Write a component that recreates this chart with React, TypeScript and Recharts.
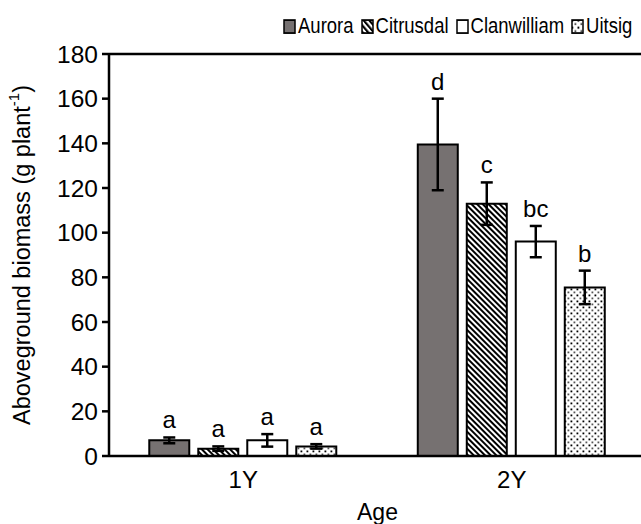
import React from 'react';
import { BarChart, Bar, XAxis, YAxis, ErrorBar, LabelList, Legend, ReferenceLine, Label } from 'recharts';

const ages = ['1Y', '2Y'];

const aurora = [7, 139.5];
const auroraSe = [1.3, 20.5];
const auroraLetters = ['a', 'd'];

const citrusdal = [3.3, 113];
const citrusdalSe = [1, 9.5];
const citrusdalLetters = ['a', 'c'];

const clanwilliam = [7, 96];
const clanwilliamSe = [2.8, 7];
const clanwilliamLetters = ['a', 'bc'];

const uitsig = [4.3, 75.5];
const uitsigSe = [1, 7.5];
const uitsigLetters = ['a', 'b'];

const yTicks = [0, 20, 40, 60, 80, 100, 120, 140, 160, 180];

const FONT = '"Liberation Sans", Arial, sans-serif';

const series = [
  { key: 'Aurora', values: aurora, se: auroraSe, letters: auroraLetters, fill: '#767171' },
  { key: 'Citrusdal', values: citrusdal, se: citrusdalSe, letters: citrusdalLetters, fill: 'url(#stripes)' },
  { key: 'Clanwilliam', values: clanwilliam, se: clanwilliamSe, letters: clanwilliamLetters, fill: '#ffffff' },
  { key: 'Uitsig', values: uitsig, se: uitsigSe, letters: uitsigLetters, fill: 'url(#dots)' },
];

const data = ages.map((age, i) => {
  const row: Record<string, string | number> = { age };
  series.forEach(s => {
    row[s.key] = s.values[i];
    row[s.key + 'Se'] = s.se[i];
  });
  return row;
});

// significance letter sits a little above the top of the error bar
const letterLabel = (se: number[], letters: string[]) => (props: any) => {
  const { x, y, width, height, index, value } = props;
  const pxPerUnit = Number(height) / Number(value);
  const top = Number(y) - se[index] * pxPerUnit;
  return (
    <text x={Number(x) + Number(width) / 2} y={top - 9} textAnchor="middle" fontSize={24} fill="#000" fontFamily={FONT}>
      {letters[index]}
    </text>
  );
};

const renderLegend = () => (
  <div
    style={{
      display: 'flex',
      alignItems: 'center',
      fontSize: 18.5,
      color: '#000',
      whiteSpace: 'nowrap',
      fontFamily: FONT,
      transform: 'scaleY(1.18)',
      transformOrigin: 'left top',
    }}
  >
    {series.map(s => (
      <span key={s.key} style={{ display: 'inline-flex', alignItems: 'center', marginRight: 7 }}>
        <svg width={13} height={13}>
          <rect x={1} y={1} width={11} height={11} fill={s.fill} stroke="#000" strokeWidth={1.5} />
        </svg>
        <span style={{ marginLeft: 2 }}>{s.key}</span>
      </span>
    ))}
  </div>
);

const YTitle = (props: any) => {
  const vb = props.viewBox || {};
  const cy = (vb.y ?? 54) + (vb.height ?? 402) / 2;
  return (
    <text x={22} y={cy} transform={`rotate(-90, 22, ${cy})`} textAnchor="middle" dominantBaseline="central" fontSize={23.5} fill="#000" fontFamily={FONT}>
      Aboveground biomass (g plant
      <tspan baselineShift="super" fontSize={15}>-1</tspan>
      )
    </text>
  );
};

const XTitle = (props: any) => {
  const vb = props.viewBox || {};
  const cx = (vb.x ?? 108) + (vb.width ?? 538) / 2;
  const y = (vb.y ?? 456) + 64;
  return (
    <text x={cx} y={y} textAnchor="middle" fontSize={23} fill="#000" fontFamily={FONT}>
      Age
    </text>
  );
};

export default function App() {
  return (
    <div style={{ position: 'fixed', left: 0, top: 0, width: 641, height: 524, overflow: 'hidden', background: '#fff', fontFamily: FONT }}>
      <BarChart
        width={660}
        height={524}
        data={data}
        margin={{ top: 54, right: 14, bottom: 28, left: 0 }}
        barCategoryGap="15%"
        barGap={9}
      >
        <defs>
          <pattern id="stripes" patternUnits="userSpaceOnUse" width={4} height={4} patternTransform="rotate(-45)">
            <rect width={4} height={4} fill="#fff" />
            <rect width={2} height={4} fill="#000" />
          </pattern>
          <pattern id="dots" patternUnits="userSpaceOnUse" width={6} height={6}>
            <rect width={6} height={6} fill="#fff" />
            <rect x={0.5} y={0.5} width={1.8} height={1.8} fill="#000" />
            <rect x={3.5} y={3.5} width={1.8} height={1.8} fill="#555" />
          </pattern>
        </defs>
        <XAxis
          dataKey="age"
          height={40}
          axisLine={{ stroke: '#000', strokeWidth: 2.5 }}
          tickLine={false}
          tickSize={0}
          tickMargin={15}
          tick={{ fill: '#000', fontSize: 24, fontFamily: FONT }}
        >
          <Label content={<XTitle />} />
        </XAxis>
        <YAxis
          width={109}
          domain={[0, 180]}
          ticks={yTicks}
          axisLine={{ stroke: '#000', strokeWidth: 2.5 }}
          tickLine={{ stroke: '#000', strokeWidth: 2.5 }}
          tickSize={7}
          tickMargin={4}
          tick={{ fill: '#000', fontSize: 24.5, fontFamily: FONT }}
        >
          <Label content={<YTitle />} />
        </YAxis>
        <ReferenceLine y={180} stroke="#000" strokeWidth={2.5} />
        <Legend
          layout="horizontal"
          verticalAlign="middle"
          align="center"
          content={renderLegend}
          wrapperStyle={{ top: 13, left: 283, width: 'auto' }}
        />
        {series.map(s => (
          <Bar key={s.key} dataKey={s.key} fill={s.fill} stroke="#000" strokeWidth={2} isAnimationActive={false}>
            <ErrorBar dataKey={s.key + 'Se'} width={6} stroke="#000" strokeWidth={2.5} direction="y" />
            <LabelList dataKey={s.key} content={letterLabel(s.se, s.letters)} />
          </Bar>
        ))}
      </BarChart>
    </div>
  );
}
